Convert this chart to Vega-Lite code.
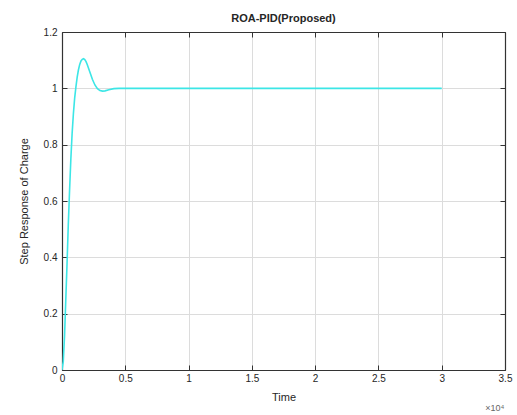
{
  "$schema": "https://vega.github.io/schema/vega-lite/v6.json",
  "width": 443,
  "height": 338,
  "autosize": {"type": "none"},
  "padding": {"left": 62, "top": 32, "right": 12, "bottom": 45},
  "background": "white",
  "config": {
    "font": "Liberation Sans",
    "view": {"stroke": null},
    "axis": {
      "domainColor": "#333333",
      "domainWidth": 1.2,
      "tickColor": "#333333",
      "tickSize": -5,
      "labelFont": "Liberation Sans",
      "labelFontSize": 10,
      "labelColor": "#262626",
      "titleFont": "Liberation Sans",
      "titleFontSize": 11,
      "titleFontWeight": "normal",
      "titleColor": "#262626",
      "gridColor": "#dcdcdc",
      "gridWidth": 1
    }
  },
  "title": {
    "text": "ROA-PID(Proposed)",
    "font": "Liberation Sans",
    "fontSize": 11,
    "fontWeight": "bold",
    "color": "#262626",
    "offset": 3
  },
  "datasets": {
    "resp": [
      {"t": 0, "y": 0},
      {"t": 0.01, "y": 0.03},
      {"t": 0.02, "y": 0.12},
      {"t": 0.03, "y": 0.25},
      {"t": 0.04, "y": 0.38},
      {"t": 0.05, "y": 0.52},
      {"t": 0.06, "y": 0.64},
      {"t": 0.07, "y": 0.75},
      {"t": 0.08, "y": 0.84},
      {"t": 0.09, "y": 0.91},
      {"t": 0.10, "y": 0.965},
      {"t": 0.11, "y": 1.005},
      {"t": 0.12, "y": 1.04},
      {"t": 0.13, "y": 1.066},
      {"t": 0.14, "y": 1.085},
      {"t": 0.15, "y": 1.097},
      {"t": 0.16, "y": 1.103},
      {"t": 0.17, "y": 1.105},
      {"t": 0.18, "y": 1.102},
      {"t": 0.19, "y": 1.095},
      {"t": 0.20, "y": 1.084},
      {"t": 0.22, "y": 1.058},
      {"t": 0.24, "y": 1.032},
      {"t": 0.26, "y": 1.012},
      {"t": 0.28, "y": 0.999},
      {"t": 0.30, "y": 0.992},
      {"t": 0.32, "y": 0.99},
      {"t": 0.34, "y": 0.991},
      {"t": 0.37, "y": 0.995},
      {"t": 0.41, "y": 0.999},
      {"t": 0.45, "y": 1.0},
      {"t": 0.6, "y": 1.0},
      {"t": 1.0, "y": 1.0},
      {"t": 1.5, "y": 1.0},
      {"t": 2.0, "y": 1.0},
      {"t": 2.5, "y": 1.0},
      {"t": 3.0, "y": 1.0}
    ],
    "mult": [{"t": 3.42, "y": -0.135, "label": "×10⁴"}]
  },
  "layer": [
    {
      "data": {"name": "resp"},
      "mark": {"type": "line", "color": "#3ce6e6", "strokeWidth": 1.6, "clip": true},
      "encoding": {
        "x": {
          "field": "t", "type": "quantitative",
          "scale": {"domain": [0, 3.5], "nice": false, "zero": false},
          "axis": {"orient": "bottom", "values": [0, 0.5, 1, 1.5, 2, 2.5, 3, 3.5], "format": "~g", "title": "Time", "titlePadding": 8, "labelPadding": 8, "grid": true, "labelFlush": false}
        },
        "y": {
          "field": "y", "type": "quantitative",
          "scale": {"domain": [0, 1.2], "nice": false},
          "axis": {"orient": "left", "values": [0, 0.2, 0.4, 0.6, 0.8, 1, 1.2], "format": "~g", "title": "Step Response of Charge", "titlePadding": 14, "labelPadding": 10, "grid": true, "labelFlush": false}
        }
      }
    },
    {
      "data": {"name": "resp"},
      "mark": {"type": "point", "opacity": 0},
      "encoding": {
        "x": {
          "field": "t", "type": "quantitative",
          "scale": {"domain": [0, 3.5], "nice": false, "zero": false},
          "axis": {"orient": "top", "values": [0, 0.5, 1, 1.5, 2, 2.5, 3, 3.5], "labels": false, "title": null, "grid": false}
        },
        "y": {
          "field": "y", "type": "quantitative",
          "scale": {"domain": [0, 1.2], "nice": false},
          "axis": {"orient": "right", "values": [0, 0.2, 0.4, 0.6, 0.8, 1, 1.2], "labels": false, "title": null, "grid": false}
        }
      }
    },
    {
      "data": {"name": "mult"},
      "mark": {"type": "text", "clip": false, "fontSize": 9, "color": "#666666", "font": "Liberation Sans"},
      "encoding": {
        "x": {"field": "t", "type": "quantitative", "axis": null},
        "y": {"field": "y", "type": "quantitative", "axis": null},
        "text": {"field": "label"}
      }
    }
  ],
  "resolve": {"axis": {"x": "independent", "y": "independent"}}
}
